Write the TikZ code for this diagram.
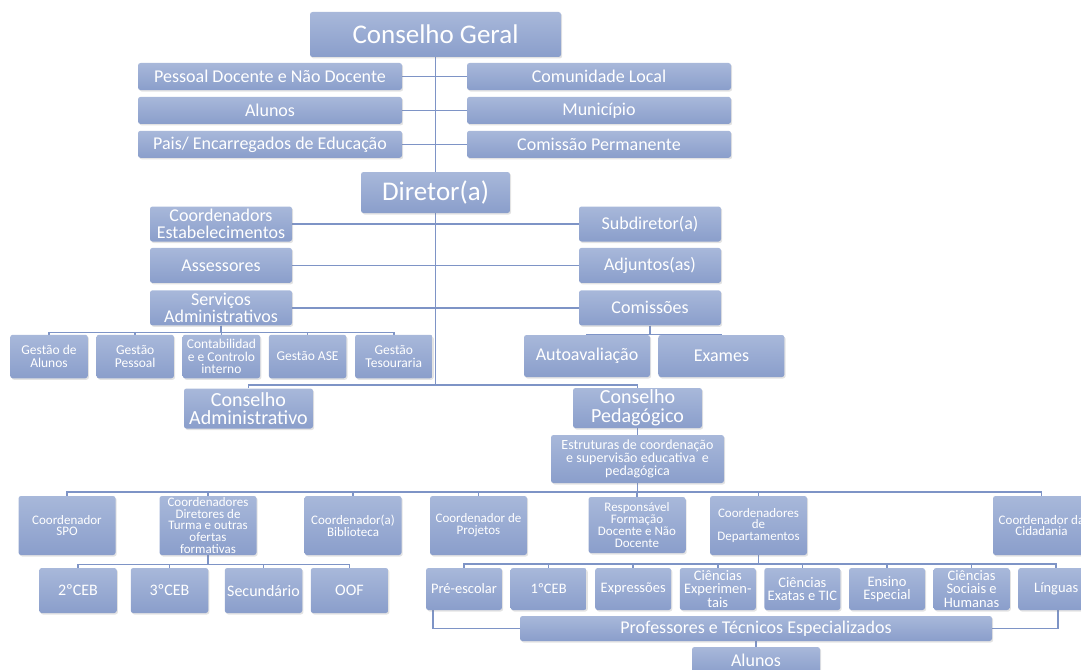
\documentclass[tikz,border=0pt]{standalone}
\usepackage{fontspec}
\setmainfont{Carlito}
\usetikzlibrary{positioning,backgrounds,shadows}

\definecolor{boxtop}{HTML}{A8B8DA}
\definecolor{boxbot}{HTML}{8A9ECB}
\definecolor{lineblue}{HTML}{7E94C6}

\tikzset{
  orgbox/.style={rectangle, rounded corners=2.5pt, top color=boxtop, bottom color=boxbot,
    text=white, align=center, inner xsep=1pt, inner ysep=0pt,
    drop shadow={shadow xshift=1.2pt, shadow yshift=-1.5pt, opacity=0.22}},
  orgline/.style={draw=lineblue, line width=1.5pt}
}

\begin{document}
\begin{tikzpicture}[x=1pt, y=-1pt]
      \useasboundingbox (0,0) rectangle (1081,669);
      \begin{scope}[every node/.style={orgbox, minimum height=45, font=\fontsize{27}{29}\selectfont}]
        \node (cg) [minimum width=251] at (435.5,34.5) {Conselho Geral};
        \node (dir) [minimum width=149, minimum height=41] at (435.5,192.5) {Diretor(a)};
      \end{scope}
      \begin{scope}[every node/.style={orgbox, minimum width=264, minimum height=27, font=\fontsize{18}{19}\selectfont}]
        \node (pdnd) at (270,76.5) {Pessoal Docente e Não Docente};
        \node (alu) [below=6.5pt of pdnd] {Alunos};
        \node (pais) [below=6.5pt of alu] {Pais/ Encarregados de Educação};
        \node (cl) at (599,76.5) {Comunidade Local};
        \node (mun) [below=6.5pt of cl] {Município};
        \node (cp) [below=6.5pt of mun] {Comissão Permanente};
      \end{scope}
      \begin{scope}[every node/.style={orgbox, minimum width=142, minimum height=35, font=\fontsize{18}{16.5}\selectfont}]
        \node (ce) at (221,224) {Coordenadors\\Estabelecimentos};
        \node (ass) [below=6pt of ce] {Assessores};
        \node (sa) [below=7pt of ass] {Serviços\\Administrativos};
        \node (sub) at (650,224) {Subdiretor(a)};
        \node (adj) [below=6pt of sub] {Adjuntos(as)};
        \node (com) [below=7pt of adj] {Comissões};
      \end{scope}
      \begin{scope}[every node/.style={orgbox, minimum width=77.5, minimum height=43.5, font=\fontsize{13.5}{12.5}\selectfont}]
        \node (ga) at (49,356.5) {Gestão de\\Alunos};
        \node (gp) [right=8.3pt of ga] {Gestão\\Pessoal};
        \node (cci) [right=8.3pt of gp] {Contabilidad\\e e Controlo\\interno};
        \node (gase) [right=8.3pt of cci] {Gestão ASE};
        \node (gt) [right=8.3pt of gase] {Gestão\\Tesouraria};
      \end{scope}
      \begin{scope}[every node/.style={orgbox, minimum width=126, minimum height=42, font=\fontsize{18}{19}\selectfont}]
        \node (auto) at (587,356) {Autoavaliação};
        \node (exa) [right=8pt of auto] {Exames};
      \end{scope}
      \begin{scope}[every node/.style={orgbox, minimum width=129, minimum height=40, font=\fontsize{20}{18.5}\selectfont}]
        \node (cadm) at (248.5,408.5) {Conselho\\Administrativo};
        \node (cped) at (637.5,408) {Conselho\\Pedagógico};
      \end{scope}
      \node (est) [orgbox, minimum width=173, minimum height=48, font=\fontsize{14}{13.3}\selectfont] at (637.5,459)
        {Estruturas de coordenação\\e supervisão educativa~ e\\pedagógica};
      \begin{scope}[every node/.style={orgbox, minimum width=97, minimum height=59, font=\fontsize{13}{11.9}\selectfont}]
        \node (spo) at (67,525.5) {Coordenador\\SPO};
        \node (cdt) at (208,525.5) {Coordenadores\\Diretores de\\Turma e outras\\ofertas\\formativas};
        \node (bib) at (353,525.5) {Coordenador(a)\\Biblioteca};
        \node (proj) at (478.5,525.5) {Coordenador de\\Projetos};
        \node (rf) [minimum height=56] at (637,525) {Responsável\\Formação\\Docente e Não\\Docente};
        \node (cdep) at (758.5,525.5) {Coordenadores\\de\\Departamentos};
        \node (cid) at (1041.5,525.5) {Coordenador da\\Cidadania};
      \end{scope}
      \begin{scope}[every node/.style={orgbox, minimum width=77.5, minimum height=45, font=\fontsize{16}{17}\selectfont}]
        \node (ceb2) at (78,590.5) {2ºCEB};
        \node (ceb3) at (169.5,590.5) {3ºCEB};
        \node (sec) at (263.5,590.5) {Secundário};
        \node (oof) at (349.5,590.5) {OOF};
      \end{scope}
      \begin{scope}[every node/.style={orgbox, minimum width=76, minimum height=42, font=\fontsize{14.5}{13.3}\selectfont}]
        \node (pre) at (464,589) {Pré-escolar};
        \node (ceb1) [right=8.2pt of pre] {1ºCEB};
        \node (expr) [right=8.2pt of ceb1] {Expressões};
        \node (cexp) [right=8.2pt of expr] {Ciências\\Experimen-\\tais};
        \node (cet) [right=8.2pt of cexp] {Ciências\\Exatas e TIC};
        \node (ee) [right=8.2pt of cet] {Ensino\\Especial};
        \node (csh) [right=8.2pt of ee] {Ciências\\Sociais e\\Humanas};
        \node (lin) [right=8.2pt of csh] {Línguas};
      \end{scope}
      \begin{scope}[every node/.style={orgbox, font=\fontsize{18}{19}\selectfont}]
        \node (prof) [minimum width=472, minimum height=25] at (756,628.5) {Professores e Técnicos Especializados};
        \node (alun) [minimum width=128, minimum height=27] at (756,660.5) {Alunos};
      \end{scope}
      \begin{scope}[on background layer, every path/.style={orgline}]
        \draw (cg) -- (dir);
        \draw (pdnd) -- (cl);
        \draw (alu) -- (mun);
        \draw (pais) -- (cp);
        \draw (ce) -- (sub);
        \draw (ass) -- (adj);
        \draw (sa) -- (com);
        \draw (dir.south) -- ++(0,172) coordinate (hub);
        \draw (cadm.north) |- (hub) -| (cped.north);
        \foreach \n in {ga,gp,cci,gase,gt}
          \draw (sa.south) -- ++(0,7) -| (\n.north);
        \foreach \n in {auto,exa}
          \draw (com.south) -- ++(0,9) -| (\n.north);
        \draw (cped) -- (est);
        \foreach \n in {spo,cdt,bib,proj,rf,cdep,cid}
          \draw (est.south) -- ++(0,9) -| (\n.north);
        \foreach \n in {ceb2,ceb3,sec,oof}
          \draw (cdt.south) -- ++(0,9.5) -| (\n.north);
        \foreach \n in {pre,ceb1,expr,cexp,cet,ee,csh,lin}
          \draw (cdep.south) -- ++(0,9) -| (\n.north);
        \draw ([xshift=-31pt]pre.south) |- (prof.west);
        \draw ([xshift=2pt]lin.south) |- (prof.east);
        \draw (prof) -- (alun);
      \end{scope}
    \end{tikzpicture}
\end{document}
